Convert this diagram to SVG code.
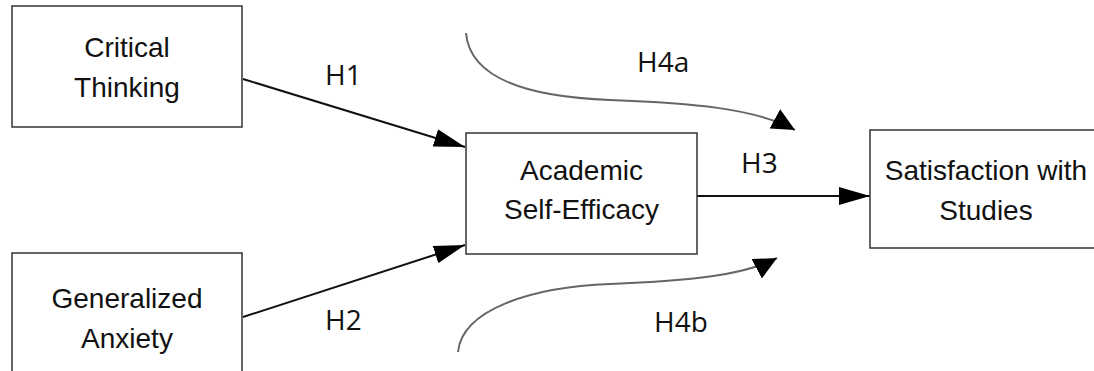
<svg xmlns="http://www.w3.org/2000/svg" width="1094" height="371" viewBox="0 0 1094 371">
<style>
.box{fill:#fff;stroke:#333;stroke-width:1.5}
.t{font-family:"Liberation Sans",Arial,sans-serif;font-size:28px;fill:#111;text-anchor:middle}
.h{font-family:"Open Sans","DejaVu Sans",sans-serif;font-size:28px;fill:#111}
.e{fill:none;stroke:#111;stroke-width:2}
.c{fill:none;stroke:#666;stroke-width:2}
</style>
<defs>
<marker id="ah" markerUnits="userSpaceOnUse" markerWidth="32" markerHeight="18" refX="31" refY="9" orient="auto"><path d="M0,0 L31,9 L0,18 Z" fill="#000"/></marker>
<marker id="ac" markerUnits="userSpaceOnUse" markerWidth="24" markerHeight="22" refX="23" refY="11" orient="auto"><path d="M0,0 L23,11 L0,22 Z" fill="#000"/></marker>
</defs>
<rect width="1094" height="371" fill="#fff"/>
<g id="connectors">
<path class="e" d="M243,79 L465,147" marker-end="url(#ah)"/>
<path class="e" d="M243,317 L465,245" marker-end="url(#ah)"/>
<path class="e" d="M697,196 L870,196" marker-end="url(#ah)"/>
<path class="c" d="M466,33 C470,80 530,97 610,100 C690,103 755,108 795,130" marker-end="url(#ac)"/>
<path class="c" d="M458,352 C462,310 530,287 610,284 C690,281 745,275 777,258" marker-end="url(#ac)"/>
<text class="h" x="325" y="85">H1</text>
<text class="h" x="325" y="330">H2</text>
<text class="h" x="741" y="173">H3</text>
<text class="h" x="637" y="72">H4a</text>
<text class="h" x="654" y="332">H4b</text>
</g>
<g id="critical-thinking">
<rect class="box" x="12" y="6" width="230" height="121"/>
<text class="t" x="127" y="57">Critical</text>
<text class="t" x="127" y="97">Thinking</text>
</g>
<g id="generalized-anxiety">
<rect class="box" x="12" y="253" width="230" height="130"/>
<text class="t" x="127" y="308">Generalized</text>
<text class="t" x="127" y="348">Anxiety</text>
</g>
<g id="academic-self-efficacy">
<rect class="box" x="466" y="133" width="231" height="121"/>
<text class="t" x="581.5" y="180">Academic</text>
<text class="t" x="581.5" y="219">Self-Efficacy</text>
</g>
<g id="satisfaction-with-studies">
<rect class="box" x="870" y="130" width="231" height="118"/>
<text class="t" x="986" y="180">Satisfaction with</text>
<text class="t" x="986" y="220">Studies</text>
</g>
</svg>
